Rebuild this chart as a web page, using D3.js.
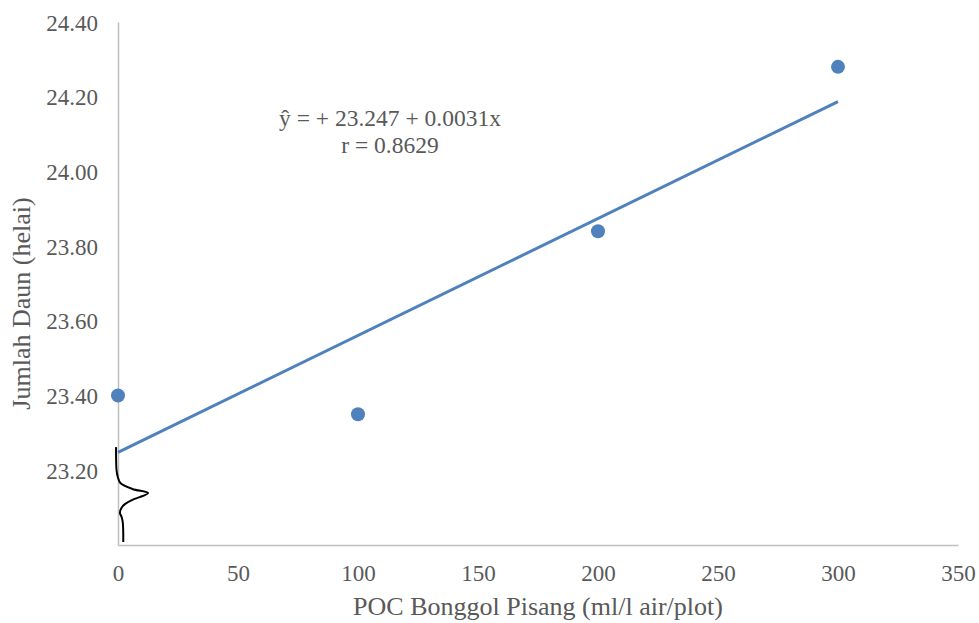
<!DOCTYPE html>
<html>
<head>
<meta charset="utf-8">
<script src="https://cdn.jsdelivr.net/npm/d3@7"></script>
<style>
  body { margin: 0; background: #fff; }
</style>
</head>
<body>
<div class="chart"></div>
<script>
// dosis POC (ml/l air/plot)
const doses = [0, 100, 200, 300];
// jumlah daun (helai)
const leaves = [23.40, 23.35, 23.84, 24.28];
const xTicks = [0, 50, 100, 150, 200, 250, 300, 350];
const yTicks = [23.20, 23.40, 23.60, 23.80, 24.00, 24.20, 24.40];
// hand-drawn axis break, in data units
const breakMark = [[-0.8, 23.262], [-0.6, 23.2], [0, 23.18], [1, 23.166], [6, 23.15], [12.5, 23.139],
  [9, 23.128], [6, 23.121], [3, 23.11], [1.5, 23.1], [0.8, 23.086], [1.5, 23.075], [2, 23.06], [2.2, 23.008]];

const serif = '"Times New Roman", "Liberation Serif", "DejaVu Serif", serif';

// least squares line through the points
const mx = d3.mean(doses), my = d3.mean(leaves);
const slope = d3.sum(doses, (d, i) => (d - mx) * (leaves[i] - my)) / d3.sum(doses, d => (d - mx) ** 2);
const intercept = my - slope * mx;

const margin = { top: 22, right: 21, bottom: 78, left: 118 };
const width = 979 - margin.left - margin.right;
const height = 623 - margin.top - margin.bottom;

const svg = d3.select(".chart")
    .append("svg")
    .attr("width", 979)
    .attr("height", 623)
    .append("g")
    .attr("transform", `translate(${margin.left}, ${margin.top})`);

const x = d3.scaleLinear().domain([0, 350]).range([0, width]);
const y = d3.scaleLinear().domain([23.0, 24.4]).range([height, 0]);

// axes
const xAxis = svg.append("g")
    .attr("transform", `translate(0, ${height})`)
    .call(d3.axisBottom(x).tickValues(xTicks).tickSize(0).tickPadding(20));
const yAxis = svg.append("g")
    .call(d3.axisLeft(y).tickValues(yTicks).tickSize(0).tickPadding(20).tickFormat(d3.format(".2f")));
[xAxis, yAxis].forEach(a => {
  a.attr("font-family", null).attr("font-size", null);
  a.select(".domain").attr("stroke", "#bfbfbf").attr("stroke-width", 1.5);
  a.selectAll("text")
    .style("font-family", serif)
    .style("font-size", "23px")
    .attr("fill", "#595959");
});
yAxis.selectAll("text").attr("dy", "0.35em");
xAxis.selectAll("text").attr("dy", "0.7em");

// trendline
svg.append("line")
    .attr("x1", x(0)).attr("y1", y(intercept))
    .attr("x2", x(300)).attr("y2", y(intercept + slope * 300))
    .attr("stroke", "#4f81bd")
    .attr("stroke-width", 3);

// dots
svg.append("g")
    .selectAll("circle")
    .data(doses)
    .join("circle")
    .attr("cx", d => x(d))
    .attr("cy", (d, i) => y(leaves[i]))
    .attr("r", 7)
    .style("fill", "#4f81bd");

// axis break
svg.append("path")
    .datum(breakMark)
    .attr("d", d3.line().x(d => x(d[0])).y(d => y(d[1])).curve(d3.curveCatmullRom))
    .attr("fill", "none")
    .attr("stroke", "#000")
    .attr("stroke-width", 2);

function label(px, py, size, txt) {
  return svg.append("text")
    .attr("x", px).attr("y", py)
    .attr("text-anchor", "middle")
    .style("font-family", serif)
    .style("font-size", size)
    .attr("fill", "#595959")
    .text(txt);
}

// equation
label(272, 104, "23.5px", "ŷ = + 23.247 + 0.0031x");
label(272, 131, "23.5px", "r = 0.8629");

// axis titles
label(width / 2, height + 70, "26px", "POC Bonggol Pisang (ml/l air/plot)");
label(0, 0, "26px", "Jumlah Daun (helai)")
    .attr("transform", `translate(${-88}, ${height / 2 + 20}) rotate(-90)`);
</script>
</body>
</html>
